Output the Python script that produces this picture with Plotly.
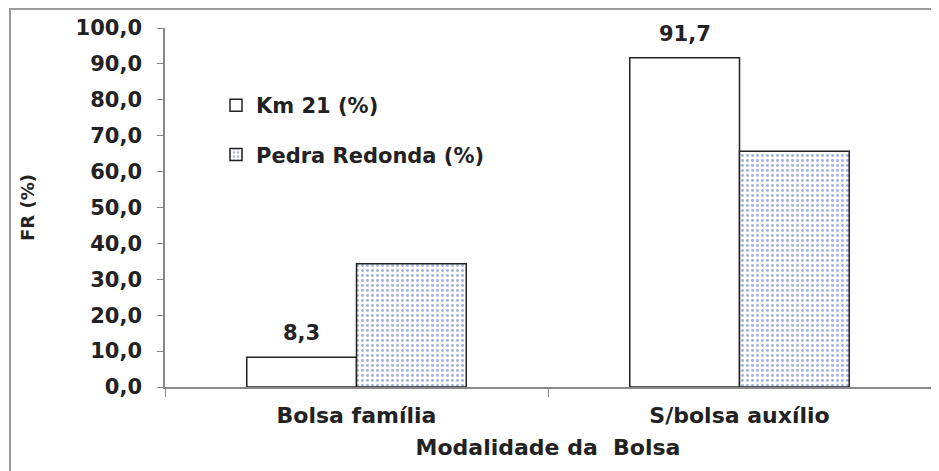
import plotly.graph_objects as go

categories = ["Bolsa família", "S/bolsa auxílio"]
km21 = [8.3, 91.7]
pedra = [34.3, 65.7]
km21_labels = ["8,3", "91,7"]
y_ticks = [0, 10, 20, 30, 40, 50, 60, 70, 80, 90, 100]

font = "DejaVu Sans, Liberation Sans, Arial, sans-serif"
ink = "#222222"

fig = go.Figure()
fig.add_trace(go.Bar(
    x=categories, y=km21, name="Km 21 (%)", legendgroup="a",
    marker=dict(color="white", line=dict(color=ink, width=1.5)),
))
fig.add_trace(go.Bar(
    x=categories, y=pedra, name="Pedra Redonda (%)", legendgroup="b",
    marker=dict(color="white", line=dict(color=ink, width=1.5),
                pattern=dict(shape=".", fgcolor="#3f62c4", bgcolor="white",
                             size=5, solidity=0.28)),
))

for c, v, t in zip(categories, km21, km21_labels):
    fig.add_annotation(x=c, y=v, text=t, showarrow=False,
                       xshift=-55, yanchor="bottom", yshift=10,
                       font=dict(family=font, size=21, color=ink, weight="bold"))

W, H = 931, 463
L, R, T, B = 157, 8, 20, 84
pw, ph = W - L - R, H - T - B

fig.update_layout(
    width=W, height=H,
    margin=dict(l=L, r=R, t=T, b=B),
    paper_bgcolor="white", plot_bgcolor="white",
    barmode="group", bargap=0.427, bargroupgap=0,
    separators=",.",
    font=dict(family=font, size=21, color=ink, weight="bold"),
    showlegend=True,
    legend=dict(x=(216 - 165) / pw, y=(387 - 85) / ph, xanchor="left", yanchor="top",
                bgcolor="rgba(0,0,0,0)", traceorder="grouped",
                tracegroupgap=19,
                font=dict(family=font, size=21, color=ink, weight="bold")),
    xaxis=dict(showline=True, linecolor="#888888", linewidth=1.5,
               ticks="outside", tickson="boundaries", ticklen=8,
               tickcolor="#888888", ticklabelstandoff=8,
               tickfont=dict(family=font, size=22, weight="bold", color=ink),
               title=dict(text="Modalidade da  Bolsa", standoff=12,
                          font=dict(family=font, size=22, weight="bold", color=ink))),
    yaxis=dict(range=[0, 100], tickvals=y_ticks, tickformat=".1f",
               showline=True, linecolor="#888888", linewidth=1.5,
               ticks="outside", ticklen=6, tickcolor="#888888",
               ticklabelstandoff=11,
               showgrid=False, zeroline=False,
               tickfont=dict(family=font, size=21, weight="bold", color=ink),
               title=dict(text="FR (%)", standoff=36,
                          font=dict(family=font, size=18, weight="bold", color=ink))),
)

fig.add_shape(type="rect", xref="paper", yref="paper",
              x0=(2 - L) / pw, x1=(W + 20 - L) / pw,
              y0=-0.4, y1=(H - B - 1) / ph,
              line=dict(color="#999999", width=2), layer="below")

fig.write_html("out.html")
